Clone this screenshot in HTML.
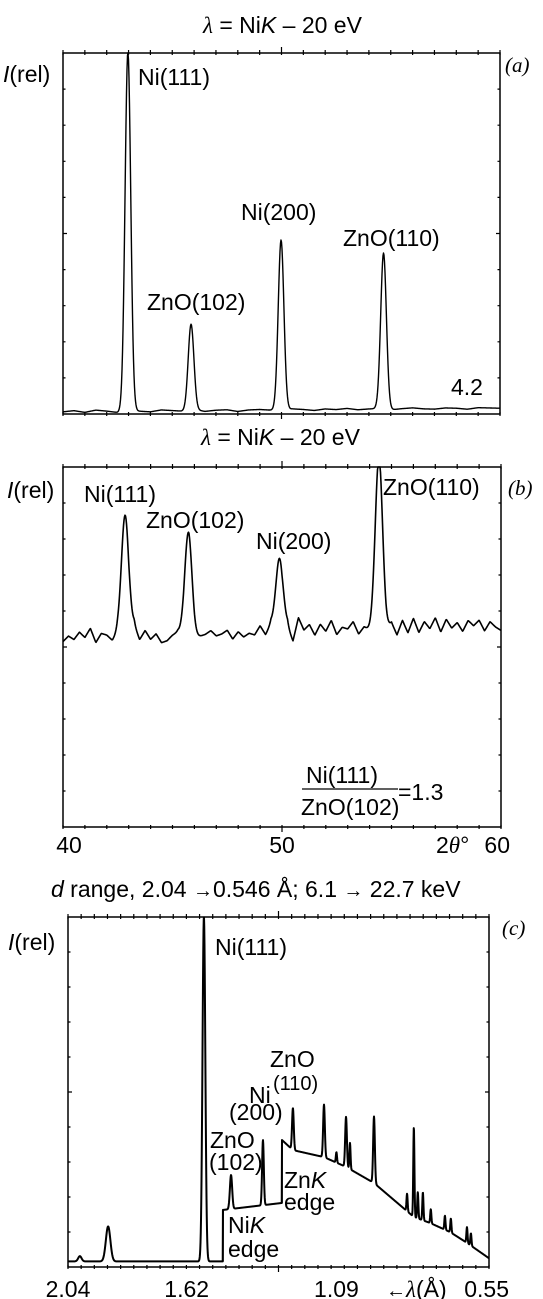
<!DOCTYPE html>
<html><head><meta charset="utf-8"><style>
html,body{margin:0;padding:0;background:#fff;}
svg{display:block;font-family:"Liberation Sans",sans-serif;}
text{fill:#000;}
</style></head><body>
<svg id="fig" width="543" height="1299" viewBox="0 0 543 1299" xmlns="http://www.w3.org/2000/svg">
<text x="203" y="33" font-size="23"><tspan font-family="Liberation Serif" font-style="italic">λ</tspan> = Ni<tspan font-style="italic">K</tspan> – 20 eV</text>
<text x="3" y="82" font-size="23"><tspan font-style="italic">I</tspan>(rel)</text>
<text x="505" y="72" font-size="21" font-family="Liberation Serif" font-style="italic">(a)</text>
<text x="138" y="85" font-size="23">Ni(111)</text>
<text x="147" y="310" font-size="23">ZnO(102)</text>
<text x="241" y="220" font-size="23">Ni(200)</text>
<text x="343" y="246" font-size="23">ZnO(110)</text>
<text x="451" y="395" font-size="23">4.2</text>
<text x="201" y="445" font-size="23"><tspan font-family="Liberation Serif" font-style="italic">λ</tspan> = Ni<tspan font-style="italic">K</tspan> – 20 eV</text>
<text x="7" y="498" font-size="23"><tspan font-style="italic">I</tspan>(rel)</text>
<text x="508" y="495" font-size="21" font-family="Liberation Serif" font-style="italic">(b)</text>
<text x="84" y="502" font-size="23">Ni(111)</text>
<text x="146" y="528" font-size="23">ZnO(102)</text>
<text x="256" y="549" font-size="23">Ni(200)</text>
<text x="383" y="495" font-size="23">ZnO(110)</text>
<text x="306" y="783" font-size="23">Ni(111)</text>
<line x1="302" y1="789" x2="398" y2="789" stroke="#000" stroke-width="1.3"/>
<text x="301" y="815" font-size="23">ZnO(102)</text>
<text x="398" y="800" font-size="23">=1.3</text>
<text x="436" y="853" font-size="23">2<tspan font-family="Liberation Serif" font-style="italic">θ</tspan>°</text>
<text x="51" y="897" font-size="23"><tspan font-style="italic">d</tspan> range, 2.04 <tspan font-size="20">→</tspan>0.546 Å; 6.1 <tspan font-size="20">→</tspan> 22.7 keV</text>
<text x="8" y="950" font-size="23"><tspan font-style="italic">I</tspan>(rel)</text>
<text x="502" y="935" font-size="21" font-family="Liberation Serif" font-style="italic">(c)</text>
<text x="215" y="955" font-size="23">Ni(111)</text>
<text x="270" y="1067" font-size="23">ZnO</text>
<text x="273" y="1090" font-size="20">(110)</text>
<text x="249" y="1103" font-size="23">Ni</text>
<text x="229" y="1120" font-size="23">(200)</text>
<text x="210" y="1148" font-size="23">ZnO</text>
<text x="209" y="1170" font-size="23">(102)</text>
<text x="284" y="1188" font-size="23">Zn<tspan font-style="italic">K</tspan></text>
<text x="284" y="1210" font-size="23">edge</text>
<text x="228" y="1233" font-size="23">Ni<tspan font-style="italic">K</tspan></text>
<text x="228" y="1257" font-size="23">edge</text>
<text x="386" y="1297" font-size="23"><tspan font-size="20">←</tspan><tspan font-family="Liberation Serif" font-style="italic">λ</tspan>(Å)</text>
</svg>
<script>
// ---------- Panel a data ----------
const aPeakPos = [42.97, 45.86, 49.98, 54.67];
const aPeakInt = [100, 24.4, 47.9, 43.8];
const aBaseStart = 0.6, aBaseEnd = 1.6;
const aNoise = [0,0.3,-0.2,0.4,0.1,-0.3,0.2,0,-0.2,0.3,0.1,-0.1,0.3,-0.2,0.1,0.2,-0.3,0.1,0.2,0,-0.2,0.3,0.1,-0.2,0.2,0,0.3,-0.1,0.1,0.2,-0.2,0.1,0.3,0,-0.1,0.2,0.1,-0.2,0.2,0.1,0];
// ---------- Panel b data ----------
const bPeakPos = [42.84, 45.72, 49.89, 54.42];
const bPeakInt = [86.7, 79.7, 73.9, 100];
const bBaseStart = 52.5, bBaseEnd = 55.6;
const bNoise = [-1,0.5,-0.5,1.5,0,2.5,-1.5,1,0.5,-1,1,0,-1.5,
  3,-1,1.5,-1,0.5,-2,-1.5,0,1,-0.5,1.5,-1,-0.5,0,
  1,-0.5,0,1,-1.5,0.5,-1,0,-0.5,2,-0.5,2.5,0,
  -1.5,1.5,-2.5,4,0.5,2,-1,2,0,3,-1,1,0.5,2.5,-1,1,0,
  -1,1,0,2,-1.5,2.5,-1,3,-1,2,0,3,-1,2.5,0,1.5,-1,2,0.5,2,-1,1.5,0,-1];
const xTicks2 = [40, 50, 60];
const xTickLabels2 = ["40", "50", "60"];
// ---------- Panel c data ----------
const cBgLam = [2.04, 1.492, 1.492, 1.283, 1.283, 1.244, 1.134, 1.056, 0.957, 0.816, 0.759, 0.688, 0.628, 0.557, 0.55];
const cBgInt = [1.6, 1.6, 16.3, 18.3, 36.3, 33.4, 31.4, 28.6, 24, 14.3, 12.6, 10, 6.9, 2.9, 2.5];
const cPeakLam = [1.998, 1.898, 1.559, 1.463, 1.350, 1.244, 1.134, 1.090, 1.056, 1.042, 0.957, 0.840, 0.816, 0.802, 0.784, 0.756, 0.706, 0.685, 0.628, 0.614];
const cPeakInt = [1.5, 10, 98.5, 9.7, 18.6, 12, 15, 3, 14.3, 7.5, 19, 5, 25.7, 7.5, 8, 4, 4, 4, 4.5, 3.5];
const cPeakWid = [0.006, 0.008, 0.005, 0.004, 0.003, 0.003, 0.003, 0.002, 0.003, 0.002, 0.003, 0.002, 0.002, 0.002, 0.002, 0.002, 0.002, 0.002, 0.002, 0.002];
const xTicksC = [2.04, 1.62, 1.09, 0.55];
const xTickLabelsC = ["2.04", "1.62", "1.09", "0.55"];

const NS = "http://www.w3.org/2000/svg";
const svg = document.getElementById("fig");
function mk(tag, attrs){ const e=document.createElementNS(NS,tag); for(const k in attrs) e.setAttribute(k,attrs[k]); svg.appendChild(e); return e; }

function drawFrame(x0,x1,y0,y1,nx,majorIdx,nameP){
  const r = mk("rect",{x:x0,y:y0,width:x1-x0,height:y1-y0,fill:"none",stroke:"#000","stroke-width":1.5});
  
  
  let d="";
  for(let i=0;i<=nx;i++){
    const x=x0+(x1-x0)*i/nx; const L=(majorIdx.indexOf(i)>=0)?6:3;
    d+=`M${x},${y0-L}L${x},${y0+2}M${x},${y1+L-1}L${x},${y1-2}`;
  }
  for(let j=1;j<10;j++){
    const y=y0+(y1-y0)*j/10; const L=(j==5)?4:2.5;
    d+=`M${x0},${y}L${x0+L},${y}M${x1},${y}L${x1-L},${y}`;
  }
  const t=mk("path",{d:d,stroke:"#000","stroke-width":1.2,fill:"none"});
  
  
}
function interpArr(arr,t){ const n=arr.length-1; const f=Math.max(0,Math.min(n,t*n)); const i=Math.floor(f); const j=Math.min(n,i+1); return arr[i]+(arr[j]-arr[i])*(f-i); }
function gauss(x,c,s){ const z=(x-c)/s; return Math.exp(-0.5*z*z); }

(function(){
  const x0=63,x1=500,y0=53,y1=414;
  const sx=v=>x0+(v-40)/20*(x1-x0), sy=v=>y1-v/100*(y1-y0);
  drawFrame(x0,x1,y0,y1,20,[10],'panel-a');
  let pts=[];
  for(let px=x0;px<=x1;px+=0.5){
    const v=40+(px-x0)/(x1-x0)*20; const t=(v-40)/20;
    let I=aBaseStart+(aBaseEnd-aBaseStart)*t+interpArr(aNoise,t);
    for(let k=0;k<aPeakPos.length;k++) I+=(aPeakInt[k]-aBaseStart)*gauss(v,aPeakPos[k],0.13);
    pts.push(sx(v).toFixed(2)+","+sy(Math.min(I,100)).toFixed(2));
  }
  const p=mk("polyline",{points:pts.join(" "),fill:"none",stroke:"#000","stroke-width":1.4,"stroke-linejoin":"round"});
  
  
})();

(function(){
  const x0=63,x1=501,y0=467,y1=827;
  const sx=v=>x0+(v-40)/20*(x1-x0), sy=v=>y1-v/100*(y1-y0);
  drawFrame(x0,x1,y0,y1,20,[10],'panel-b');
  let pts=[];
  for(let px=x0;px<=x1;px+=0.5){
    const v=40+(px-x0)/(x1-x0)*20; const t=(v-40)/20;
    let I=bBaseStart+(bBaseEnd-bBaseStart)*t+interpArr(bNoise,t);
    for(let k=0;k<bPeakPos.length;k++) I+=(bPeakInt[k]-bBaseStart)*gauss(v,bPeakPos[k],0.17);
    pts.push(sx(v).toFixed(2)+","+sy(Math.min(I,100)).toFixed(2));
  }
  const p=mk("polyline",{points:pts.join(" "),fill:"none",stroke:"#000","stroke-width":1.6,"stroke-linejoin":"round"});
  
  
  for(let i=0;i<xTicks2.length;i++){
    const tx=mk("text",{x:sx(xTicks2[i])+(i==0?6:0),y:853,"font-size":23,"text-anchor":(i==2?"end":"middle")});
    tx.textContent=xTickLabels2[i];
    if(i==2) tx.setAttribute("x",510);
    
    
  }
})();

(function(){
  const x0=68,x1=489,y0=917,y1=1267;
  const sx=l=>x0+(2.04-l)/(2.04-0.55)*(x1-x0), sy=v=>y1-v/100*(y1-y0);
  drawFrame(x0,x1,y0,y1,32,[16],'panel-c');
  function bg(l){
    for(let i=0;i<cBgLam.length-1;i++){
      if(l<=cBgLam[i] && l>=cBgLam[i+1]){
        const a=cBgLam[i],b=cBgLam[i+1];
        if(a===b) return cBgInt[i+1];
        return cBgInt[i]+(cBgInt[i+1]-cBgInt[i])*(a-l)/(a-b);
      }
    }
    return cBgInt[cBgInt.length-1];
  }
  let pts=[];
  for(let px=x0;px<=x1;px+=0.25){
    const l=2.04-(px-x0)/(x1-x0)*1.49;
    let I=bg(l);
    for(let k=0;k<cPeakLam.length;k++) I+=cPeakInt[k]*gauss(l,cPeakLam[k],cPeakWid[k]);
    pts.push(px.toFixed(2)+","+sy(Math.min(I,100)).toFixed(2));
  }
  const p=mk("polyline",{points:pts.join(" "),fill:"none",stroke:"#000","stroke-width":2,"stroke-linejoin":"round"});
  
  
  [1.492,1.283].forEach((l)=>{
    const e=mk("line",{x1:sx(l),x2:sx(l),y1:sy(bg(l+0.0001)),y2:sy(bg(l-0.0001)),stroke:"#000","stroke-width":1.8});
    
    
  });
  for(let i=0;i<xTicksC.length;i++){
    const tx=mk("text",{x:sx(xTicksC[i]),y:1297,"font-size":23,"text-anchor":"middle"});
    tx.textContent=xTickLabelsC[i];
    if(i==3){ tx.setAttribute("text-anchor","end"); tx.setAttribute("x",509); }
    
    
  }
})();
</script>
</body></html>
